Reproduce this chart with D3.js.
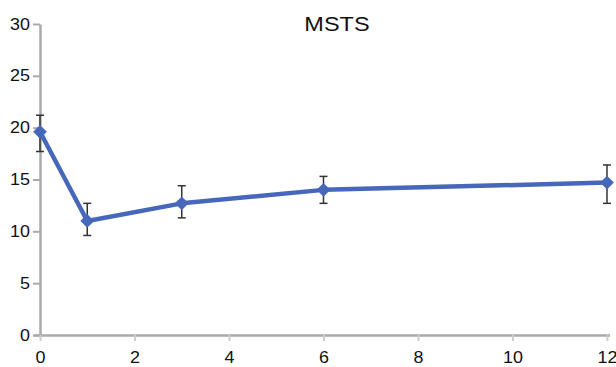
<!DOCTYPE html>
<html>
<head>
<meta charset="utf-8">
<script src="https://cdn.jsdelivr.net/npm/d3@7"></script>
<style>
  body { margin: 0; background: #fff; }
  text { font-family: "Liberation Sans", Arial, sans-serif; }
</style>
</head>
<body>
<div id="chart"></div>
<script>
var w = 616;
var h = 367;

var margin = { top: 24, bottom: 32, left: 40, right: 9 };
var width = w - margin.left - margin.right;
var height = h - margin.top - margin.bottom;

// MSTS over time
var months = [0, 1, 3, 6, 12];
var means = [19.6, 11.0, 12.7, 14.0, 14.7];
var upper = [21.2, 12.7, 14.4, 15.3, 16.4];
var lower = [17.7, 9.6, 11.3, 12.7, 12.7];
var xTicks = [0, 2, 4, 6, 8, 10, 12];
var yTicks = [0, 5, 10, 15, 20, 25, 30];
var title = "MSTS";

// the original picture is a bit wider than tall, so text is stretched
var stretch = "scale(1.12,1)";

var data = months.map(function (m, i) {
  return { x: m, y: means[i], hi: upper[i], lo: lower[i] };
});

var x = d3.scaleLinear().domain([0, 12]).range([0, width]);
var y = d3.scaleLinear().domain([0, 30]).range([height, 0]);

var svg = d3.select("#chart").append("svg")
  .attr("width", w)
  .attr("height", h);

var chart = svg.append("g").attr("transform", "translate(" + margin.left + "," + margin.top + ")");

var yAxis = chart.append("g")
  .call(d3.axisLeft(y).tickValues(yTicks).tickSize(7).tickPadding(2).tickSizeOuter(0));
yAxis.select(".domain").attr("stroke", "#aaa").attr("stroke-width", 2.5);
yAxis.selectAll(".tick line").attr("stroke", "#aaa").attr("stroke-width", 2);
yAxis.selectAll("text").style("font-size", "16px").attr("fill", "#111")
  .attr("transform", stretch);

var xAxis = chart.append("g")
  .attr("transform", "translate(0," + height + ")")
  .call(d3.axisBottom(x).tickValues(xTicks).tickSize(6).tickPadding(11).tickSizeOuter(0));
xAxis.select(".domain").attr("stroke", "#aaa").attr("stroke-width", 2.5)
  .attr("d", "M-6,0.5H" + (width + 3));
xAxis.selectAll(".tick line").attr("stroke", "#ccc").attr("stroke-width", 2);
xAxis.selectAll("text").style("font-size", "16px").attr("fill", "#111")
  .attr("transform", stretch);

// error bars
var eb = chart.selectAll(".err")
  .data(data)
  .join("g")
  .attr("class", "err")
  .attr("stroke", "#333")
  .attr("stroke-width", 1.5);
eb.append("line")
  .attr("x1", function (d) { return x(d.x); })
  .attr("x2", function (d) { return x(d.x); })
  .attr("y1", function (d) { return y(d.hi); })
  .attr("y2", function (d) { return y(d.lo); });
eb.append("line")
  .attr("x1", function (d) { return x(d.x) - 4; })
  .attr("x2", function (d) { return x(d.x) + 4; })
  .attr("y1", function (d) { return y(d.hi); })
  .attr("y2", function (d) { return y(d.hi); });
eb.append("line")
  .attr("x1", function (d) { return x(d.x) - 4; })
  .attr("x2", function (d) { return x(d.x) + 4; })
  .attr("y1", function (d) { return y(d.lo); })
  .attr("y2", function (d) { return y(d.lo); });

var line = d3.line()
  .x(function (d) { return x(d.x); })
  .y(function (d) { return y(d.y); });

chart.append("path")
  .datum(data)
  .attr("d", line)
  .attr("fill", "none")
  .attr("stroke", "#4767bb")
  .attr("stroke-width", 4.5)
  .attr("stroke-linejoin", "round");

chart.selectAll(".pt")
  .data(data)
  .join("path")
  .attr("class", "pt")
  .attr("d", d3.symbol().type(d3.symbolDiamond2).size(120))
  .attr("transform", function (d) { return "translate(" + x(d.x) + "," + y(d.y) + ")"; })
  .attr("fill", "#4767bb");

svg.append("g")
  .attr("transform", "translate(337,31) " + stretch)
  .append("text")
  .attr("text-anchor", "middle")
  .style("font-size", "21px")
  .attr("fill", "#111")
  .text(title);
</script>
</body>
</html>
